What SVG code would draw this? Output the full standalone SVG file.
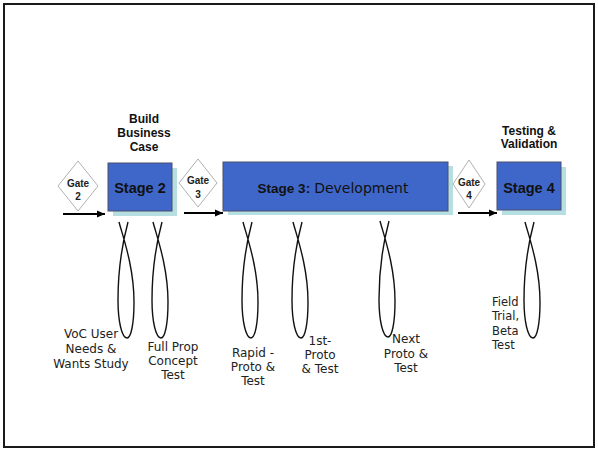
<svg xmlns="http://www.w3.org/2000/svg" xmlns:xlink="http://www.w3.org/1999/xlink" width="598" height="451" viewBox="0 0 598 451">
<defs>
<style>
.frame{fill:#fff;stroke:#1a1a1a;stroke-width:2}
.stage{fill:#3f67c9;stroke:#4a4f6a;stroke-width:1}
.shadow{fill:#b6dfe2}
.gate{fill:#fff;stroke:#b0b0b0;stroke-width:1}
.gt{font-family:"Liberation Sans",Arial,sans-serif;font-weight:bold;font-size:10px;fill:#222;text-anchor:middle}
.st{font-family:"Liberation Sans",Arial,sans-serif;font-weight:bold;font-size:14.5px;fill:#111;text-anchor:middle}
.hd{font-family:"Liberation Sans",Arial,sans-serif;font-weight:bold;font-size:12px;fill:#111;text-anchor:middle}
.lb{font-family:"DejaVu Sans",Verdana,sans-serif;font-size:12px;fill:#222;text-anchor:middle}
.loop{fill:none;stroke:#111;stroke-width:1.4}
.arr{stroke:#000;stroke-width:2;fill:none;marker-end:url(#ah)}
</style>
<marker id="ah" markerUnits="userSpaceOnUse" markerWidth="9" markerHeight="8" refX="8" refY="4" orient="auto">
<path d="M0,0.5 L8,4 L0,7.5 z" fill="#000"/>
</marker>
<path id="lp" class="loop" d="M0,0 C4,15 15,45 15,80 C15,102 12,116 8,116 C3,116 -1,100 -1,78 C-1,45 5,15 9,0"/>
</defs>
<rect class="frame" x="4" y="4" width="590" height="443"/>

<g id="connectors">
<line class="arr" x1="63" y1="214" x2="105" y2="214"/>
<line class="arr" x1="184" y1="213" x2="223" y2="213"/>
<line class="arr" x1="458" y1="213" x2="497" y2="213"/>
</g>

<g id="gate2">
<polygon class="gate" points="78,161 98,186 78,211 58,186"/>
<text class="gt" x="78" y="187">Gate</text>
<text class="gt" x="78" y="200">2</text>
</g>
<g id="stage2">
<rect class="shadow" x="113" y="168" width="64" height="48"/>
<rect class="stage" x="108" y="163" width="64" height="48"/>
<text class="st" x="140" y="193">Stage 2</text>
<text class="hd" x="144" y="123">Build</text>
<text class="hd" x="144" y="137">Business</text>
<text class="hd" x="144" y="151">Case</text>
</g>
<g id="gate3">
<polygon class="gate" points="198,159 217,183 198,207 179,183"/>
<text class="gt" x="198" y="184">Gate</text>
<text class="gt" x="198" y="198">3</text>
</g>
<g id="stage3">
<rect class="shadow" x="228" y="166" width="225" height="49"/>
<rect class="stage" x="223" y="162" width="225" height="49"/>
<text x="333" y="193" style="text-anchor:middle;fill:#111"><tspan style="font-family:'Liberation Sans',Arial,sans-serif;font-weight:bold;font-size:13.5px">Stage 3:</tspan> <tspan style="font-family:'DejaVu Sans',Verdana,sans-serif;font-size:14px">Development</tspan></text>
</g>
<g id="gate4">
<polygon class="gate" points="469,160 485,184 469,208 453,184"/>
<text class="gt" x="469" y="186">Gate</text>
<text class="gt" x="469" y="199">4</text>
</g>
<g id="stage4">
<rect class="shadow" x="502" y="167" width="64" height="48"/>
<rect class="stage" x="497" y="162" width="64" height="48"/>
<text class="st" x="529" y="193">Stage 4</text>
<text class="hd" x="529" y="135">Testing &amp;</text>
<text class="hd" x="529" y="148">Validation</text>
</g>

<g id="activity1">
<use xlink:href="#lp" x="119" y="222"/>
<text class="lb" x="91" y="338">VoC User</text>
<text class="lb" x="91" y="353">Needs &amp;</text>
<text class="lb" x="91" y="368">Wants Study</text>
</g>
<g id="activity2">
<use xlink:href="#lp" x="153" y="222"/>
<text class="lb" x="173" y="351">Full Prop</text>
<text class="lb" x="173" y="365">Concept</text>
<text class="lb" x="173" y="379">Test</text>
</g>
<g id="activity3">
<use xlink:href="#lp" x="243" y="222"/>
<text class="lb" x="253" y="357">Rapid -</text>
<text class="lb" x="253" y="371">Proto &amp;</text>
<text class="lb" x="253" y="385">Test</text>
</g>
<g id="activity4">
<use xlink:href="#lp" x="293" y="222"/>
<text class="lb" x="320" y="345">1st-</text>
<text class="lb" x="320" y="359">Proto</text>
<text class="lb" x="320" y="373">&amp; Test</text>
</g>
<g id="activity5">
<use xlink:href="#lp" x="380" y="221"/>
<text class="lb" x="406" y="343">Next</text>
<text class="lb" x="406" y="358">Proto &amp;</text>
<text class="lb" x="406" y="372">Test</text>
</g>
<g id="activity6">
<use xlink:href="#lp" x="525" y="222"/>
<text class="lb" x="492" y="306" style="text-anchor:start;font-size:11.5px">Field</text>
<text class="lb" x="492" y="320" style="text-anchor:start;font-size:11.5px">Trial,</text>
<text class="lb" x="492" y="335" style="text-anchor:start;font-size:11.5px">Beta</text>
<text class="lb" x="492" y="349" style="text-anchor:start;font-size:11.5px">Test</text>
</g>
</svg>
